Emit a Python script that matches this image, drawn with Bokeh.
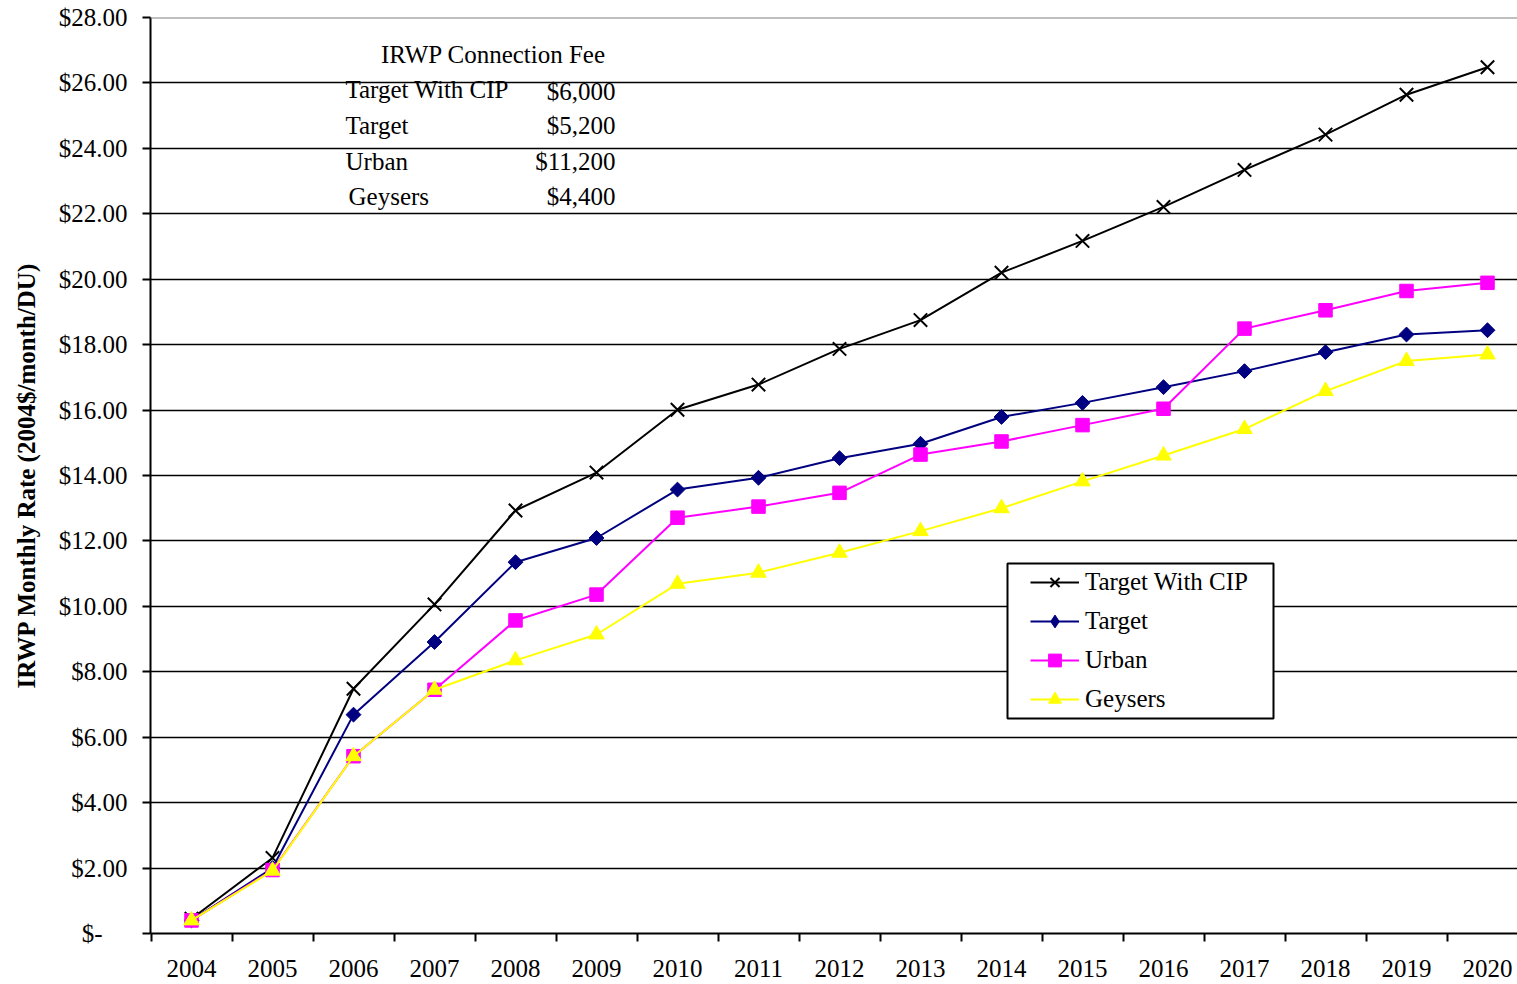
import math

from bokeh.embed import file_html
from bokeh.models import (BoxAnnotation, FixedTicker, Label, Legend, LegendItem,
                          Range1d, Span)
from bokeh.plotting import figure
from bokeh.resources import INLINE

# ---- data -------------------------------------------------------------
years = list(range(2004, 2021))
series_names = ["Target With CIP", "Target", "Urban", "Geysers"]

target_cip = [0.45, 2.31, 7.48, 10.06, 12.93, 14.09, 16.01, 16.78, 17.87,
              18.75, 20.20, 21.17, 22.21, 23.34, 24.42, 25.64, 26.48]
target = [0.40, 2.00, 6.69, 8.91, 11.35, 12.09, 13.57, 13.93, 14.53,
          14.97, 15.79, 16.22, 16.70, 17.19, 17.77, 18.31, 18.44]
urban = [0.40, 1.94, 5.42, 7.45, 9.57, 10.36, 12.71, 13.05, 13.47,
         14.64, 15.04, 15.54, 16.04, 18.49, 19.05, 19.64, 19.89]
geysers = [0.40, 1.92, 5.42, 7.45, 8.35, 9.14, 10.69, 11.03, 11.64,
           12.30, 13.00, 13.82, 14.61, 15.42, 16.58, 17.50, 17.70]

fee_title = "IRWP Connection Fee"
fee_values = ["$6,000", "$5,200", "$11,200", "$4,400"]

y_ticks = [0, 2, 4, 6, 8, 10, 12, 14, 16, 18, 20, 22, 24, 26, 28]
y_tick_labels = ["$-\u2007\u2007", "$2.00", "$4.00", "$6.00", "$8.00", "$10.00",
                 "$12.00", "$14.00", "$16.00", "$18.00", "$20.00", "$22.00",
                 "$24.00", "$26.00", "$28.00"]
y_title = "IRWP Monthly Rate (2004$/month/DU)"

# ---- layout -----------------------------------------------------------
W, H = 1517, 984
LEFT, TOP, BOTTOM = 150, 17, 51
FRAME_W, FRAME_H = W - LEFT, H - TOP - BOTTOM
PX_PER_YEAR = 81.0
X_START = years[0] - 41.0 / PX_PER_YEAR
X_END = X_START + FRAME_W / PX_PER_YEAR
Y_MAX = 28
PX_PER_UNIT = FRAME_H / Y_MAX
FRAME_BOTTOM = TOP + FRAME_H

SERIF = "Liberation Serif"
FONT = "25px"


def dx(px):
    """canvas x pixel -> data x"""
    return X_START + (px - LEFT) / PX_PER_YEAR


def dy(py):
    """canvas y pixel -> data y"""
    return (FRAME_BOTTOM - py) / PX_PER_UNIT


p = figure(width=W, height=H,
           x_range=Range1d(X_START, X_END), y_range=Range1d(0, Y_MAX),
           output_backend="svg", toolbar_location=None,
           min_border_left=LEFT, min_border_right=0,
           min_border_top=TOP, min_border_bottom=BOTTOM,
           outline_line_color=None,
           background_fill_color="white", border_fill_color="white")

# horizontal grid
p.xgrid.visible = False
p.ygrid.ticker = FixedTicker(ticks=y_ticks)
p.ygrid.grid_line_color = "black"
p.ygrid.grid_line_width = 1.5
p.add_layout(Span(location=Y_MAX, dimension="width",
                  line_color="#808080", line_width=2))

# x axis: labels at each year, tick marks between years
xa = p.xaxis[0]
xa.ticker = FixedTicker(ticks=years,
                        minor_ticks=[y - 0.5 for y in years] + [years[-1] + 0.5])
xa.major_label_overrides = {y: str(y) for y in years}
xa.major_tick_line_color = None
xa.major_tick_out = 0
xa.major_tick_in = 0
xa.minor_tick_line_color = "black"
xa.minor_tick_line_width = 2
xa.minor_tick_out = 8
xa.minor_tick_in = 0
xa.axis_line_color = "black"
xa.axis_line_width = 2
xa.major_label_text_font = SERIF
xa.major_label_text_font_size = FONT
xa.major_label_text_color = "black"
xa.major_label_standoff = 18

# y axis
ya = p.yaxis[0]
ya.ticker = FixedTicker(ticks=y_ticks)
ya.major_label_overrides = dict(zip(y_ticks, y_tick_labels))
ya.minor_tick_line_color = None
ya.major_tick_out = 8
ya.major_tick_in = 0
ya.major_tick_line_width = 2
ya.major_tick_line_color = "black"
ya.axis_line_color = "black"
ya.axis_line_width = 2
ya.major_label_text_font = SERIF
ya.major_label_text_font_size = FONT
ya.major_label_text_color = "black"
ya.major_label_standoff = 15
ya.axis_label = y_title
ya.axis_label_text_font = SERIF
ya.axis_label_text_font_size = FONT
ya.axis_label_text_font_style = "bold"
ya.axis_label_text_color = "black"
ya.axis_label_standoff = 16

# ---- series -----------------------------------------------------------
NAVY, MAGENTA, YELLOW = "#000080", "#FF00FF", "#FFFF00"

r_cip_line = p.line(years, target_cip, line_color="black", line_width=2)
r_cip_pts = p.scatter(years, target_cip, marker="x", size=19,
                      line_color="black", line_width=2)

r_tgt_line = p.line(years, target, line_color=NAVY, line_width=2)
# plain diamonds sit underneath the rotated squares and stand in for the
# series in the legend (legend glyphs are always drawn unrotated)
r_tgt_key = p.scatter(years, target, marker="diamond", size=13,
                      fill_color=NAVY, line_color=NAVY)
p.scatter(years, target, marker="square", size=10.5, angle=math.pi / 4,
          fill_color=NAVY, line_color=NAVY)

r_urb_line = p.line(years, urban, line_color=MAGENTA, line_width=2)
r_urb_pts = p.scatter(years, urban, marker="square", size=13.5,
                      fill_color=MAGENTA, line_color=MAGENTA)

r_gey_line = p.line(years, geysers, line_color=YELLOW, line_width=2)
r_gey_pts = p.scatter(years, geysers, marker="triangle", size=15.5,
                      fill_color=YELLOW, line_color=YELLOW)

legend_items = [
    LegendItem(label=series_names[0], renderers=[r_cip_line, r_cip_pts]),
    LegendItem(label=series_names[1], renderers=[r_tgt_line, r_tgt_key]),
    LegendItem(label=series_names[2], renderers=[r_urb_line, r_urb_pts]),
    LegendItem(label=series_names[3], renderers=[r_gey_line, r_gey_pts]),
]

# legend frame
p.add_layout(BoxAnnotation(left=dx(1007), right=dx(1273),
                           top=dy(563), bottom=dy(718),
                           fill_color="white", fill_alpha=1.0,
                           line_color="black", line_alpha=1.0, line_width=2))

legend = Legend(items=legend_items, location=(1030 - LEFT, FRAME_BOTTOM - 715),
                padding=0, margin=0, spacing=7,
                glyph_width=49, glyph_height=32, label_height=32,
                label_standoff=6,
                label_text_font=SERIF, label_text_font_size=FONT,
                label_text_color="black",
                border_line_color=None, background_fill_alpha=0.0)
p.add_layout(legend)

# connection fee table
TEXT_SHIFT = 9
p.add_layout(Label(x=dx(493), y=dy(63 - TEXT_SHIFT), text=fee_title,
                   text_align="center", text_baseline="alphabetic",
                   text_font=SERIF, text_font_size=FONT, text_color="black"))
name_px = [345, 345, 345, 348]
row_base = [98, 134, 170, 205]
value_base = [100, 134, 170, 205]
for name, fee, nx, nb, vb in zip(series_names, fee_values, name_px, row_base, value_base):
    p.add_layout(Label(x=dx(nx), y=dy(nb - TEXT_SHIFT), text=name,
                       text_align="left", text_baseline="alphabetic",
                       text_font=SERIF, text_font_size=FONT, text_color="black"))
    p.add_layout(Label(x=dx(615), y=dy(vb - TEXT_SHIFT), text=fee,
                       text_align="right", text_baseline="alphabetic",
                       text_font=SERIF, text_font_size=FONT, text_color="black"))

open("out.html", "w").write(file_html(p, INLINE))
